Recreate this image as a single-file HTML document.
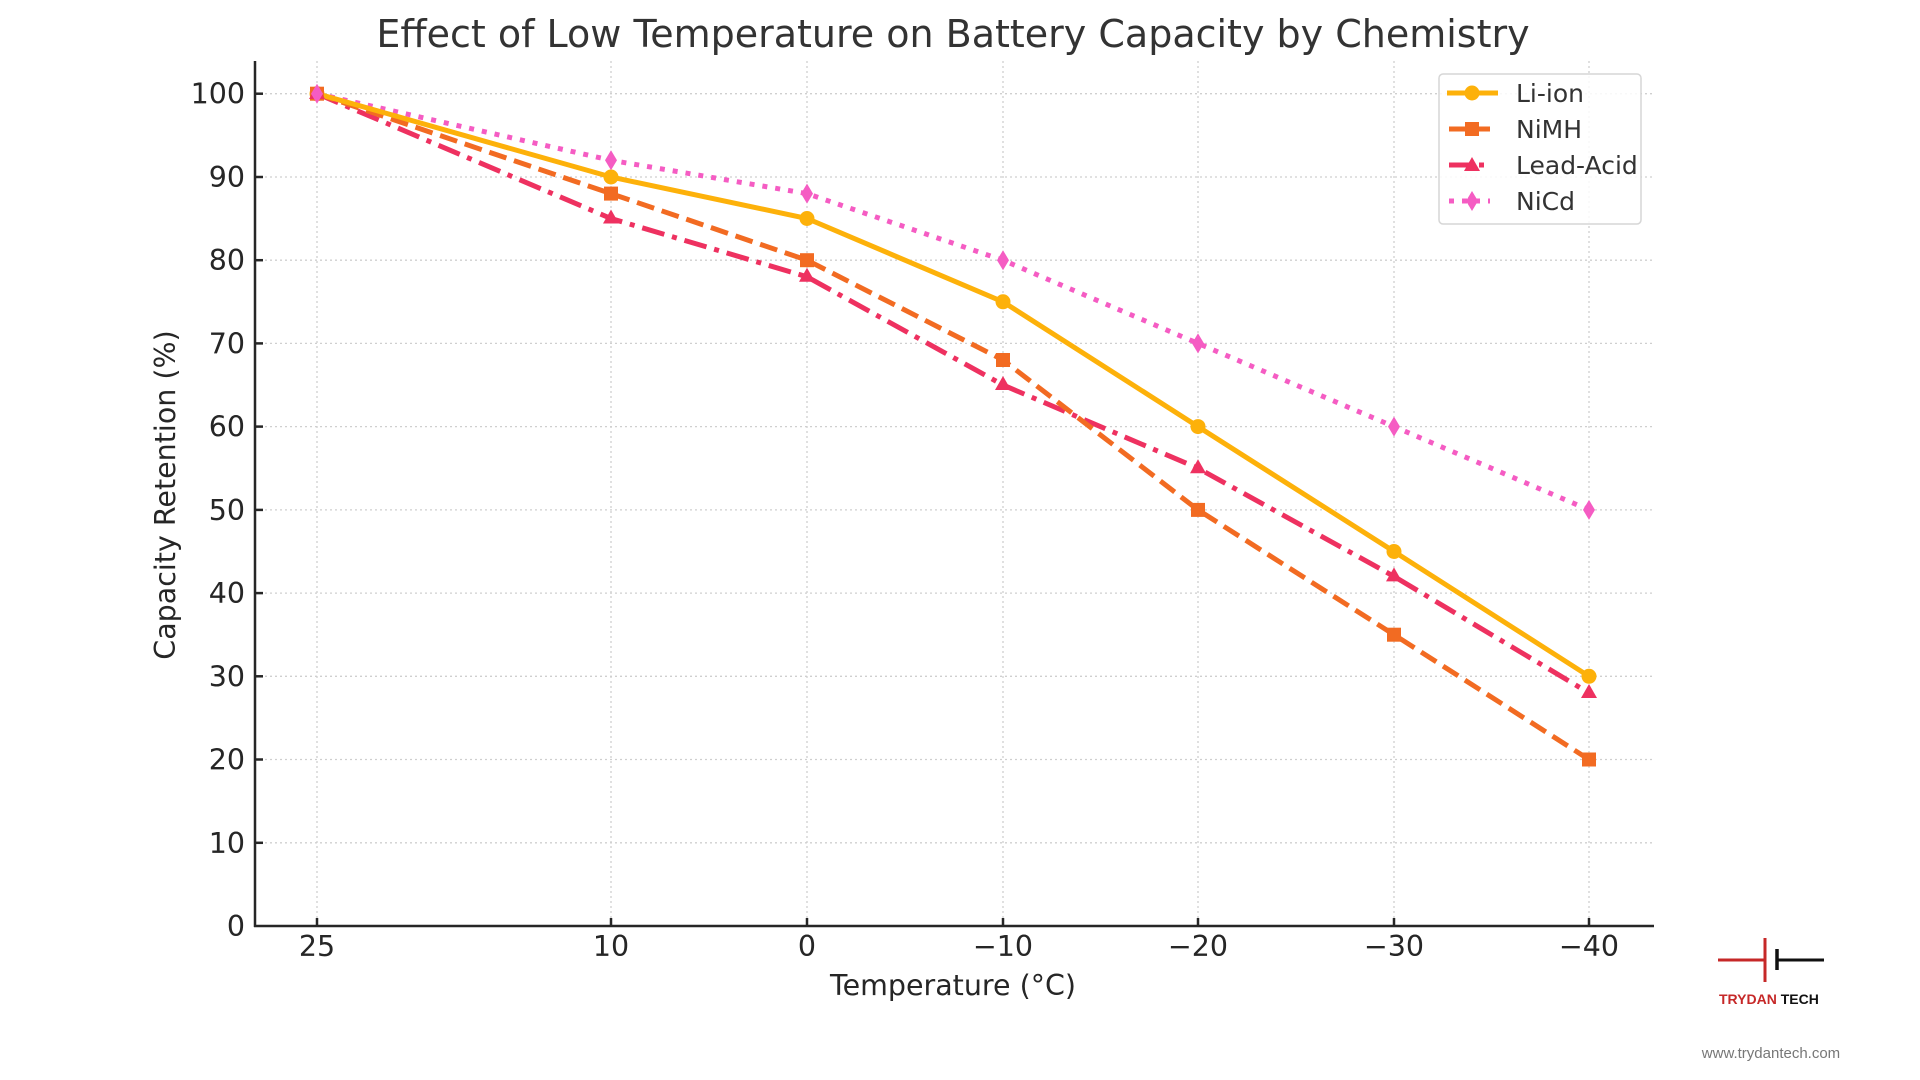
<!DOCTYPE html>
<html><head><meta charset="utf-8"><style>
html,body{margin:0;padding:0;background:#fff;}
svg{display:block;}
text{font-family:"DejaVu Sans","Liberation Sans",sans-serif;}
</style></head><body>
<svg width="1920" height="1080" viewBox="0 0 1920 1080" xmlns="http://www.w3.org/2000/svg">
<rect width="1920" height="1080" fill="#fff"/>
<text x="953" y="47" font-size="38" text-anchor="middle" fill="#333">Effect of Low Temperature on Battery Capacity by Chemistry</text>
<!-- grid -->
<g stroke="#cfcfcf" stroke-width="1.3" stroke-dasharray="2,3">
<line x1="255" x2="1654" y1="842.8" y2="842.8"/><line x1="255" x2="1654" y1="759.5" y2="759.5"/>
<line x1="255" x2="1654" y1="676.3" y2="676.3"/><line x1="255" x2="1654" y1="593.1" y2="593.1"/>
<line x1="255" x2="1654" y1="509.9" y2="509.9"/><line x1="255" x2="1654" y1="426.6" y2="426.6"/>
<line x1="255" x2="1654" y1="343.4" y2="343.4"/><line x1="255" x2="1654" y1="260.2" y2="260.2"/>
<line x1="255" x2="1654" y1="177" y2="177"/><line x1="255" x2="1654" y1="93.7" y2="93.7"/>
<line x1="317" x2="317" y1="61" y2="926"/><line x1="611" x2="611" y1="61" y2="926"/>
<line x1="807" x2="807" y1="61" y2="926"/><line x1="1003" x2="1003" y1="61" y2="926"/>
<line x1="1198" x2="1198" y1="61" y2="926"/><line x1="1394" x2="1394" y1="61" y2="926"/>
<line x1="1589" x2="1589" y1="61" y2="926"/>
</g>
<!-- axes -->
<g stroke="#262626" stroke-width="2.5">
<line x1="255" y1="61" x2="255" y2="927"/><line x1="254" y1="926" x2="1654" y2="926"/>
<line x1="255" x2="263" y1="842.8" y2="842.8"/><line x1="255" x2="263" y1="759.5" y2="759.5"/>
<line x1="255" x2="263" y1="676.3" y2="676.3"/><line x1="255" x2="263" y1="593.1" y2="593.1"/>
<line x1="255" x2="263" y1="509.9" y2="509.9"/><line x1="255" x2="263" y1="426.6" y2="426.6"/>
<line x1="255" x2="263" y1="343.4" y2="343.4"/><line x1="255" x2="263" y1="260.2" y2="260.2"/>
<line x1="255" x2="263" y1="177" y2="177"/><line x1="255" x2="263" y1="93.7" y2="93.7"/>
<line x1="317" x2="317" y1="918" y2="926"/><line x1="611" x2="611" y1="918" y2="926"/>
<line x1="807" x2="807" y1="918" y2="926"/><line x1="1003" x2="1003" y1="918" y2="926"/>
<line x1="1198" x2="1198" y1="918" y2="926"/><line x1="1394" x2="1394" y1="918" y2="926"/>
<line x1="1589" x2="1589" y1="918" y2="926"/>
</g>
<g font-size="28.5" text-anchor="end" fill="#262626">
<text x="245" y="936">0</text><text x="245" y="852.8">10</text><text x="245" y="769.5">20</text>
<text x="245" y="686.3">30</text><text x="245" y="603.1">40</text><text x="245" y="519.9">50</text>
<text x="245" y="436.6">60</text><text x="245" y="353.4">70</text><text x="245" y="270.2">80</text>
<text x="245" y="187">90</text><text x="245" y="103.7">100</text>
</g>
<g font-size="28.5" text-anchor="middle" fill="#262626">
<text x="317" y="956">25</text><text x="611" y="956">10</text><text x="807" y="956">0</text>
<text x="1003" y="956">−10</text><text x="1198" y="956">−20</text><text x="1394" y="956">−30</text>
<text x="1589" y="956">−40</text>
<text x="953" y="995" font-size="28.5">Temperature (°C)</text>
</g>
<text transform="translate(175,495) rotate(-90)" font-size="28.5" text-anchor="middle" fill="#262626">Capacity Retention (%)</text>
<!-- series -->
<g fill="none" stroke-width="5">
<polyline stroke="#f55cc3" stroke-dasharray="5,8" points="317,93.7 611,160.3 807,193.6 1003,260.2 1198,343.4 1394,426.6 1589,509.9"/>
<polyline stroke="#ee3160" stroke-dasharray="23,8,5,8" points="317,93.7 611,218.5 807,276.8 1003,385 1198,468.2 1394,576.4 1589,693"/>
<polyline stroke="#f26b22" stroke-dasharray="18,8" points="317,93.7 611,193.6 807,260.2 1003,360 1198,509.9 1394,634.7 1589,759.5"/>
<polyline stroke="#fdb10a" points="317,93.7 611,177 807,218.5 1003,301.8 1198,426.6 1394,551.5 1589,676.3"/>
</g>
<!-- markers -->
<g fill="#fdb10a">
<circle cx="317" cy="93.7" r="7.5"/><circle cx="611" cy="177" r="7.5"/><circle cx="807" cy="218.5" r="7.5"/>
<circle cx="1003" cy="301.8" r="7.5"/><circle cx="1198" cy="426.6" r="7.5"/><circle cx="1394" cy="551.5" r="7.5"/><circle cx="1589" cy="676.3" r="7.5"/>
</g>
<g fill="#f26b22">
<rect x="310" y="86.7" width="14" height="14"/><rect x="604" y="186.6" width="14" height="14"/><rect x="800" y="253.2" width="14" height="14"/>
<rect x="996" y="353" width="14" height="14"/><rect x="1191" y="502.9" width="14" height="14"/><rect x="1387" y="627.7" width="14" height="14"/><rect x="1582" y="752.5" width="14" height="14"/>
</g>
<g fill="#ee3160">
<polygon points="317,85 325,99 309,99"/><polygon points="611,209.5 619,223.5 603,223.5"/><polygon points="807,267.8 815,281.8 799,281.8"/>
<polygon points="1003,376 1011,390 995,390"/><polygon points="1198,459.2 1206,473.2 1190,473.2"/><polygon points="1394,567.4 1402,581.4 1386,581.4"/><polygon points="1589,684 1597,698 1581,698"/>
</g>
<g fill="#f55cc3">
<polygon points="317,83.7 323,93.7 317,103.7 311,93.7"/><polygon points="611,150.3 617,160.3 611,170.3 605,160.3"/>
<polygon points="807,183.6 813,193.6 807,203.6 801,193.6"/><polygon points="1003,250.2 1009,260.2 1003,270.2 997,260.2"/>
<polygon points="1198,333.4 1204,343.4 1198,353.4 1192,343.4"/><polygon points="1394,416.6 1400,426.6 1394,436.6 1388,426.6"/>
<polygon points="1589,499.9 1595,509.9 1589,519.9 1583,509.9"/>
</g>
<!-- legend -->
<rect x="1439" y="74" width="202" height="150" rx="4" fill="#fff" fill-opacity="0.85" stroke="#d6d6d6" stroke-width="1.5"/>
<g stroke-width="5">
<line x1="1447" x2="1498" y1="93" y2="93" stroke="#fdb10a"/>
<line x1="1449" x2="1490" y1="129" y2="129" stroke="#f26b22"/>
<line x1="1449" x2="1490" y1="165" y2="165" stroke="#ee3160" stroke-dasharray="22,8,5,8"/>
<line x1="1449" x2="1490" y1="201" y2="201" stroke="#f55cc3" stroke-dasharray="5,8"/>
</g>
<circle cx="1472" cy="93" r="7.5" fill="#fdb10a"/>
<rect x="1465" y="122" width="14" height="14" fill="#f26b22"/>
<polygon points="1472,157 1480,171 1464,171" fill="#ee3160"/>
<polygon points="1472,191 1478,201 1472,211 1466,201" fill="#f55cc3"/>
<g font-size="25" fill="#333">
<text x="1516" y="102">Li-ion</text><text x="1516" y="138">NiMH</text>
<text x="1516" y="174">Lead-Acid</text><text x="1516" y="210">NiCd</text>
</g>
<!-- logo -->
<line x1="1718" y1="960" x2="1765" y2="960" stroke="#c62828" stroke-width="3"/>
<line x1="1765" y1="938" x2="1765" y2="982" stroke="#c62828" stroke-width="3"/>
<line x1="1777" y1="949" x2="1777" y2="970" stroke="#111" stroke-width="3.5"/>
<line x1="1777" y1="960" x2="1824" y2="960" stroke="#111" stroke-width="3"/>
<text x="1719" y="1004" font-size="14" font-weight="bold" style="font-family:'Liberation Sans',sans-serif" fill="#c62828">TRYDAN <tspan fill="#111">TECH</tspan></text>
<text x="1771" y="1058" font-size="15" text-anchor="middle" fill="#777" style="font-family:'Liberation Sans',sans-serif">www.trydantech.com</text>
</svg>
</body></html>
